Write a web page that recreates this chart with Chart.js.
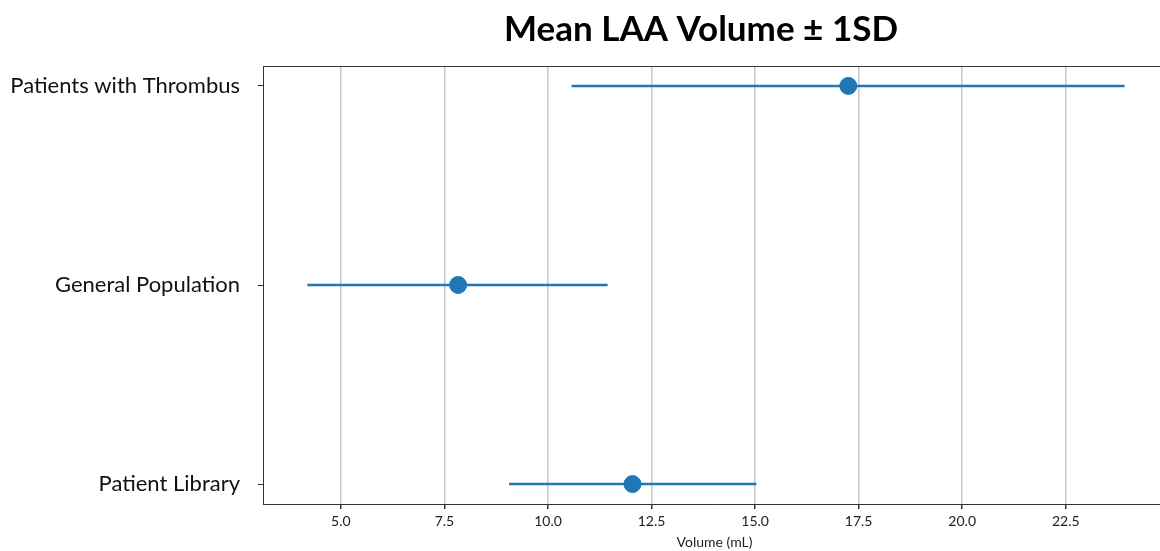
<!DOCTYPE html>
<html>
<head>
<meta charset="utf-8">
<script src="https://cdn.jsdelivr.net/npm/chart.js@4.4.1/dist/chart.umd.min.js"></script>
<style>
    html, body { margin: 0; padding: 0; background: #fff; overflow: hidden; }
    canvas { display: block; }
</style>
</head>
<body>
<canvas id="chart" width="1166" height="551"></canvas>
<script>
    // values
    let categories = ['Patient Library', 'General Population', 'Patients with Thrombus']
    let means = [12.04, 7.83, 17.25]
    let lows = [9.06, 4.19, 10.57]
    let highs = [15.03, 11.44, 23.92]
    let xTicks = [5.0, 7.5, 10.0, 12.5, 15.0, 17.5, 20.0, 22.5]

    let blue = '#1f77b4'
    let font = 'Lato, "Open Sans", sans-serif'

    let datasets = []
    categories.forEach((cat, i) => {
        datasets.push({
            label: cat + ' ±1SD',
            data: [{x: lows[i], y: i}, {x: highs[i], y: i}],
            showLine: true,
            borderColor: blue,
            borderWidth: 2.5,
            pointRadius: 0,
        })
    })
    datasets.push({
        label: 'Mean',
        data: means.map((m, i) => ({x: m, y: i})),
        backgroundColor: blue,
        borderColor: blue,
        pointRadius: 8.5,
        pointHoverRadius: 8.5,
    })

    // matplotlib style box + title
    let frame = {
        id: 'frame',
        afterDraw(chart) {
            let {ctx, chartArea} = chart
            ctx.save()
            ctx.strokeStyle = '#333'
            ctx.lineWidth = 1
            ctx.beginPath()
            ctx.moveTo(chartArea.left, chartArea.top + 0.5)
            ctx.lineTo(chartArea.right, chartArea.top + 0.5)
            ctx.stroke()
            ctx.fillStyle = '#000'
            ctx.font = 'bold 35px ' + font
            ctx.textAlign = 'center'
            ctx.textBaseline = 'middle'
            ctx.fillText('Mean LAA Volume ± 1SD', 701, 30)
            ctx.restore()
        },
    }

    new Chart(document.getElementById('chart'), {
        type: 'scatter',
        data: {datasets},
        plugins: [frame],
        options: {
            responsive: false,
            animation: false,
            layout: {autoPadding: false, padding: {top: 66, left: 0, right: 0, bottom: 0}},
            plugins: {
                legend: {display: false},
                tooltip: {enabled: false},
            },
            scales: {
                x: {
                    type: 'linear',
                    min: 3.12,
                    max: 24.92,
                    afterBuildTicks(scale) {
                        scale.ticks = xTicks.map((v) => ({value: v}))
                    },
                    afterFit(scale) {
                        scale.height = 47
                    },
                    ticks: {
                        callback: (v) => v.toFixed(1),
                        color: '#222',
                        font: {family: font, size: 14},
                        padding: 4,
                        maxRotation: 0,
                    },
                    grid: {
                        color: '#c8c8c8',
                        lineWidth: 1.5,
                        tickColor: '#333',
                        tickLength: 5,
                    },
                    border: {color: '#333', width: 1},
                    title: {
                        display: true,
                        text: 'Volume (mL)',
                        color: '#222',
                        font: {family: font, size: 14},
                        padding: {top: 3, bottom: 0},
                    },
                },
                y: {
                    type: 'linear',
                    min: -0.1,
                    max: 2.1,
                    afterBuildTicks(scale) {
                        scale.ticks = categories.map((c, i) => ({value: i}))
                    },
                    afterFit(scale) {
                        scale.width = 263
                    },
                    ticks: {
                        callback: (v) => categories[v],
                        color: '#111',
                        font: {family: font, size: 22},
                        padding: 18,
                    },
                    grid: {
                        drawOnChartArea: false,
                        tickColor: '#333',
                        tickLength: 5,
                    },
                    border: {color: '#333', width: 1},
                },
            },
        },
    })
</script>
</body>
</html>
